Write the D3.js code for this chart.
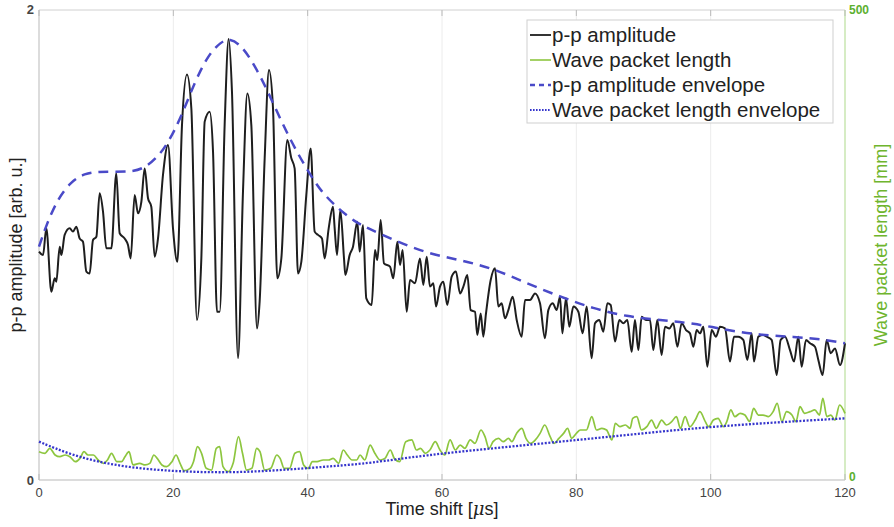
<!DOCTYPE html>
<html>
<head>
<meta charset="utf-8">
<script src="https://cdn.jsdelivr.net/npm/d3@7"></script>
<style>
  body { margin: 0; background: #fff; }
  svg { font-family: "Liberation Sans", Arial, sans-serif; }
</style>
</head>
<body>
<div id="chart"></div>
<script>
var w = 894, h = 527;
var margin = {left: 39, right: 49, top: 10, bottom: 47};

// p-p amplitude (left axis, arb. u.)
var ampT = [0,0.6,1.09,1.84,2.33,2.58,3.08,3.33,3.82,4.57,5.06,5.56,6.05,6.55,7.05,7.54,8.04,8.54,9.03,9.53,
  10.02,10.77,11.51,12.01,12.75,13.25,13.65,14.24,14.74,15.24,15.73,16.23,16.72,17.22,17.72,18.46,19.21,19.95,
  20.6,21.29,22.03,22.68,23.52,24.17,24.67,25.41,25.91,26.5,26.9,27.64,28.24,28.73,29.63,30.37,31.02,31.61,
  32.46,32.85,33.6,34.24,34.84,35.48,36.08,36.97,37.57,38.06,38.56,39.06,39.8,40.45,41.04,41.54,42.13,42.53,
  43.13,43.77,44.02,44.37,44.86,45.41,45.61,46.25,46.75,47.39,47.74,48.24,48.73,49.53,50.02,50.37,50.87,
  51.36,52.26,52.75,53.35,53.75,54.14,54.74,55.24,55.98,56.72,57.22,57.72,58.21,58.71,59.11,59.7,60.2,60.79,
  61.44,62.08,62.68,63.18,63.77,64.27,64.91,65.26,65.76,66.15,66.55,67.25,67.89,68.39,68.88,69.38,69.88,
  70.52,71.12,71.86,72.36,73.1,73.85,74.59,75.33,75.83,76.48,77.07,77.57,77.92,78.46,78.96,79.55,80.3,80.94,
  81.54,82.28,82.78,83.42,84.02,84.62,85.11,85.76,86.4,87,87.59,88.24,88.73,89.23,89.73,90.37,90.97,91.46,
  92.06,92.7,93.2,93.85,94.44,95.04,95.68,96.33,96.92,97.42,97.92,98.41,98.91,99.5,100.15,100.79,101.39,
  102.13,102.88,103.47,104.12,104.86,105.46,106.1,106.45,107.1,107.84,108.34,109.08,109.83,110.42,111.07,
  111.81,112.41,113.05,113.55,114.19,114.79,115.53,116.03,116.67,117.27,117.87,118.51,119.26,120];
var ampV = [0.972,0.957,1.071,0.801,0.858,0.844,0.993,0.957,1.043,1.071,1.057,1.078,1.028,1.014,0.887,0.879,1.021,1.035,1.22,1.142,
  0.986,0.986,1.305,1.05,1.028,1,0.943,1.213,1.135,1.184,1.326,1.199,1.163,0.95,1.028,1.298,1.426,1.071,
  0.929,1.511,1.726,1.582,0.681,0.943,1.525,1.567,1.397,0.716,0.716,1.511,1.877,1.652,0.518,1.227,1.645,1.511,
  0.645,0.759,1.369,1.745,1.582,0.858,0.943,1.447,1.369,1.326,0.879,0.929,1.213,1.411,1.057,1.043,1.028,0.943,
  1.071,1.163,1.071,0.957,1.149,0.943,0.872,0.957,0.993,1.099,0.972,1.085,0.773,0.745,0.979,0.936,1.106,
  0.922,0.908,0.858,1.014,0.915,0.979,0.716,0.851,0.837,0.943,0.83,0.95,0.823,0.837,0.738,0.823,0.844,0.745,
  0.865,0.887,0.794,0.823,0.872,0.723,0.716,0.617,0.709,0.61,0.709,0.851,0.901,0.738,0.752,0.688,0.723,
  0.78,0.681,0.61,0.766,0.766,0.794,0.752,0.603,0.723,0.752,0.723,0.78,0.624,0.773,0.652,0.738,0.716,0.624,
  0.738,0.518,0.667,0.681,0.631,0.752,0.745,0.589,0.681,0.667,0.681,0.546,0.681,0.553,0.695,0.681,0.681,0.553,
  0.681,0.532,0.652,0.645,0.667,0.567,0.667,0.638,0.624,0.567,0.638,0.624,0.652,0.482,0.638,0.61,0.652,
  0.645,0.504,0.61,0.61,0.596,0.511,0.624,0.504,0.61,0.617,0.61,0.596,0.447,0.596,0.61,
  0.553,0.504,0.61,0.482,0.596,0.582,0.567,0.511,0.447,0.596,0.539,0.56,0.489,0.582];

// p-p amplitude envelope
var envT = [0,1.09,2.83,4.8,6.8,8.8,11.3,13.7,15.7,17.7,19.2,21.2,23.2,25.2,27.1,28.4,30.1,32.1,34.1,36.1,38.1,
  40.1,42,44.5,47,49,52.8,57.7,62.7,67.6,72.6,77.6,82.5,87.5,92.5,97.4,102.4,107.3,112.3,117.3,120];
var envV = [0.993,1.085,1.199,1.27,1.305,1.312,1.312,1.312,1.326,1.376,1.433,1.546,1.695,1.809,1.865,1.879,1.851,1.766,1.652,1.525,1.411,
  1.312,1.227,1.156,1.099,1.071,1.021,0.965,0.936,0.901,0.837,0.78,0.73,0.695,0.681,0.667,0.638,0.617,0.61,0.596,0.582];

// wave packet length (right axis, mm)
var lenT = [0,0.9,1.6,2.4,3.1,3.9,4.6,5.4,6.1,6.7,7.3,8.1,8.8,9.6,10.2,10.8,11.6,12.3,12.8,13.4,14,15,15.8,16.5,
  17.1,17.6,18.3,19,19.8,20.4,21,21.6,22.5,23,23.6,24.2,24.9,25.7,26.4,26.9,27.4,28.2,28.9,29.7,30.3,30.9,
  31.7,32.4,32.9,33.6,34.5,35.4,35.9,36.5,37.3,38.1,38.8,39.4,40.1,40.7,41.4,42.3,43.1,43.8,44.6,45.3,45.9,
  46.6,47.3,47.8,48.5,49.3,50,50.8,51.5,52.3,52.9,53.7,54.6,55.5,56.2,56.8,57.5,58.2,59,59.7,60.4,61.2,62,
  62.7,63.4,64.2,64.9,65.8,66.4,67,67.6,68.4,69.1,69.9,70.4,71.1,71.9,72.5,73.2,73.9,74.6,75.3,76.1,76.7,
  77.4,78.1,78.7,79.3,80,80.6,81.5,82.3,83,83.8,84.5,85.3,85.8,86.5,87.3,88,88.4,89,89.7,90.5,91.2,91.9,
  92.7,93.4,94.2,94.9,95.5,96.2,96.9,97.7,98.4,99.2,99.7,100.4,101.1,101.9,102.4,103,103.6,104.4,105.1,
  105.8,106.4,107.1,107.8,108.6,109.3,109.9,110.6,111.3,112.1,112.7,113.3,114,114.8,115.5,116.2,116.7,
  117.3,117.9,118.5,119.2,120];
var lenV = [30.1,28.4,33.7,26.6,24.8,26.6,24.8,19.5,23,30.1,26.6,26.6,21.3,17.7,21.3,28.4,19.5,19.5,24.8,30.1,16,17.7,16,17.7,
  26.6,23,16,14.2,19.5,26.6,17.7,9.9,12.4,19.5,35.5,28.4,12.4,10.6,33.7,35.5,14.2,8.9,17.7,46.1,28.4,10.6,
  12.4,33.7,30.1,10.6,12.4,26.6,23,12.4,12.4,28.4,30.1,16,12.4,19.5,19.5,21.3,21.3,23,17.7,31.9,26.6,
  21.3,21.3,26.6,21.3,37.2,28.4,21.3,23,31.9,23,19.5,40.8,42.6,31.9,33.7,28.4,31.9,40.8,31.9,26.6,42.6,31.9,
  37.2,33.7,42.6,39,53.2,46.1,33.7,40.8,44.3,40.8,44.3,40.8,49.6,55,44.3,39,42.6,49.6,58.5,46.1,39,
  44.3,49.6,55,44.3,49.6,53.2,53.2,67.4,53.2,55,53.2,42.6,60.3,56.7,58.5,55,65.6,67.4,53.2,56.7,63.8,55,
  63.8,58.5,62.1,67.4,55,67.4,56.7,63.8,72.7,62.1,56.7,63.8,65.6,56.7,62.1,74.5,67.4,70.9,69.1,
  62.1,76.2,69.1,69.1,67.4,72.7,81.6,62.1,72.7,69.1,62.1,78,70.9,72.7,74.5,69.1,86.9,
  67.4,69.1,63.8,79.8,70.9];

// wave packet length envelope
var lenEnvT = [0,4.8,9.8,14.7,19.7,24.7,29.6,34.6,39.6,44.5,49,57.7,67.6,77.6,87.5,97.4,107.3,120];
var lenEnvV = [40.8,26.6,17.7,12.4,9.6,8.2,8.2,9.9,12.4,15.2,17.7,26.6,33.7,40.8,47.9,55,60.3,65.6];

var xTicks = [0,20,40,60,80,100,120];

var blackC = "#1e1e1e", greenC = "#8dc63f", dashC = "#4a4ac8", dotC = "#3535cc";

var svg = d3.select("#chart").append("svg").attr("width", w).attr("height", h);

var x = d3.scaleLinear().domain([0,120]).range([margin.left, w - margin.right]);
var yL = d3.scaleLinear().domain([0,2]).range([h - margin.bottom, margin.top]);
var yR = d3.scaleLinear().domain([0,500]).range([h - margin.bottom, margin.top]);

var x0 = x(0), x1 = x(120), yb = yL(0), yt = yL(2);

// vertical grid
svg.append("g").selectAll("line").data(xTicks.slice(1, -1)).enter().append("line")
  .attr("x1", function(d){ return x(d); }).attr("x2", function(d){ return x(d); })
  .attr("y1", yt).attr("y2", yb)
  .attr("stroke", "#ececec").attr("stroke-width", 1);

// box
svg.append("line").attr("x1", x0).attr("x2", x1).attr("y1", yt).attr("y2", yt).attr("stroke", "#d0d0d0");
svg.append("line").attr("x1", x0).attr("x2", x1).attr("y1", yb).attr("y2", yb).attr("stroke", "#d0d0d0").attr("stroke-width", 1.5);
svg.append("line").attr("x1", x0).attr("x2", x0).attr("y1", yt).attr("y2", yb).attr("stroke", "#d0d0d0").attr("stroke-width", 1.5);
svg.append("line").attr("x1", x1).attr("x2", x1).attr("y1", yt).attr("y2", yb).attr("stroke", "#c8e6b0").attr("stroke-width", 1.5);

// x ticks (inward, top and bottom)
var tk = svg.append("g");
xTicks.forEach(function(d){
  tk.append("line").attr("x1", x(d)).attr("x2", x(d)).attr("y1", yb).attr("y2", yb - 6).attr("stroke", "#bbb");
  tk.append("line").attr("x1", x(d)).attr("x2", x(d)).attr("y1", yt).attr("y2", yt + 6).attr("stroke", "#bbb");
  tk.append("text").attr("x", x(d)).attr("y", yb + 17).attr("text-anchor", "middle")
    .attr("font-size", 13).attr("fill", "#444").text(d);
});

// y tick labels
svg.append("text").attr("x", x0 - 5).attr("y", yt + 4).attr("text-anchor", "end").attr("font-size", 13).attr("fill", "#444").attr("font-weight", "bold").text("2");
svg.append("text").attr("x", x0 - 5).attr("y", yb + 5).attr("text-anchor", "end").attr("font-size", 13).attr("fill", "#444").attr("font-weight", "bold").text("0");
svg.append("text").attr("x", x1 + 4).attr("y", yt + 4).attr("font-size", 12).attr("fill", "#5cb030").attr("font-weight", "bold").text("500");
svg.append("text").attr("x", x1 + 4).attr("y", yb + 1).attr("font-size", 12).attr("fill", "#5cb030").attr("font-weight", "bold").text("0");

// axis labels
svg.append("text").attr("transform", "translate(22," + ((yt + yb) / 2) + ") rotate(-90)")
  .attr("text-anchor", "middle").attr("font-size", 18).attr("fill", "#222").text("p-p amplitude [arb. u.]");
svg.append("text").attr("transform", "translate(887," + ((yt + yb) / 2) + ") rotate(-90)")
  .attr("text-anchor", "middle").attr("font-size", 18).attr("fill", "#6fb52e").text("Wave packet length [mm]");
var xl = svg.append("text").attr("x", (x0 + x1) / 2).attr("y", 515).attr("text-anchor", "middle")
  .attr("font-size", 18).attr("fill", "#222");
xl.append("tspan").text("Time shift [");
xl.append("tspan").attr("font-style", "italic").attr("font-family", "DejaVu Serif, serif").text("\u03bc");
xl.append("tspan").text("s]");

function pts(ts, vs) { return ts.map(function(t, i){ return [t, vs[i]]; }); }

var lineL = d3.line().x(function(d){ return x(d[0]); }).y(function(d){ return yL(d[1]); }).curve(d3.curveMonotoneX);
var lineR = d3.line().x(function(d){ return x(d[0]); }).y(function(d){ return yR(d[1]); }).curve(d3.curveMonotoneX);

svg.append("path").datum(pts(lenT, lenV)).attr("d", lineR)
  .attr("fill", "none").attr("stroke", greenC).attr("stroke-width", 1.7);
svg.append("path").datum(pts(ampT, ampV)).attr("d", lineL)
  .attr("fill", "none").attr("stroke", blackC).attr("stroke-width", 2).attr("stroke-linejoin", "round");
svg.append("path").datum(pts(envT, envV)).attr("d", lineL.curve(d3.curveBasis))
  .attr("fill", "none").attr("stroke", dashC).attr("stroke-width", 2.5).attr("stroke-dasharray", "10,7");
svg.append("path").datum(pts(lenEnvT, lenEnvV)).attr("d", lineR.curve(d3.curveBasis))
  .attr("fill", "none").attr("stroke", dotC).attr("stroke-width", 2.3).attr("stroke-dasharray", "2,1.6");

// legend
var legendItems = [
  {name: "p-p amplitude", color: blackC, dash: null, width: 1.8},
  {name: "Wave packet length", color: greenC, dash: null, width: 1.6},
  {name: "p-p amplitude envelope", color: dashC, dash: "5,4", width: 2.4},
  {name: "Wave packet length envelope", color: dotC, dash: "1.6,1.4", width: 2}
];
var lg = svg.append("g").attr("transform", "translate(527,20)");
lg.append("rect").attr("width", 306).attr("height", 103).attr("fill", "#fff").attr("stroke", "#cfcfcf");
legendItems.forEach(function(d, i){
  var yy = 15 + i * 25;
  lg.append("line").attr("x1", 3).attr("x2", 24).attr("y1", yy).attr("y2", yy)
    .attr("stroke", d.color).attr("stroke-width", d.width).attr("stroke-dasharray", d.dash);
  lg.append("text").attr("x", 25).attr("y", yy + 7).attr("font-size", 20.5).attr("fill", "#222").text(d.name);
});
</script>
</body>
</html>
